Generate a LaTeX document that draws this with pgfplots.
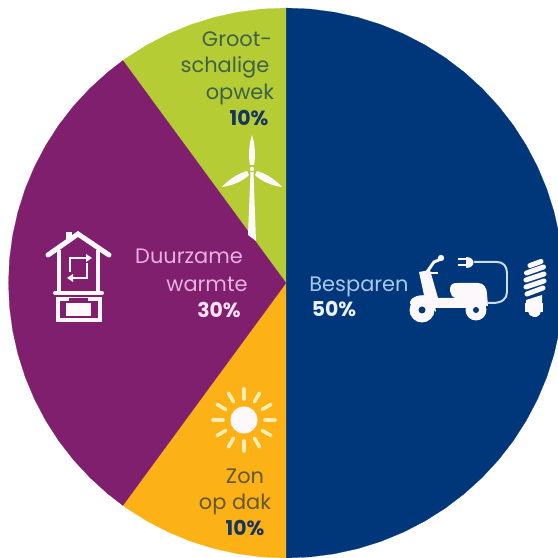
\documentclass[border=0pt]{standalone}
\usepackage{pgfplots}
\pgfplotsset{compat=1.18}
\usepackage{fontspec}
\setmainfont{Poppins}
\definecolor{cblue}{RGB}{0,55,122}
\definecolor{cpurple}{RGB}{127,31,110}
\definecolor{cgreen}{RGB}{181,204,52}
\definecolor{corange}{RGB}{252,177,22}
\definecolor{tlav}{RGB}{232,176,226}
\definecolor{tpink}{RGB}{248,228,246}
\definecolor{tblue}{RGB}{170,200,235}
\definecolor{twhite}{RGB}{236,242,250}
\definecolor{tgreen}{RGB}{62,98,72}
\definecolor{tnavy}{RGB}{22,52,96}
\definecolor{tbrown}{RGB}{100,88,50}
\definecolor{iw}{RGB}{252,248,252}
\definecolor{sray}{RGB}{255,238,180}
\newcommand{\lbl}[4]{\node[anchor=mid,inner sep=0pt,yshift=-3.5bp,text=#3,font=\fontsize{21}{21}\selectfont] at (#1,#2) {#4};}
\newcommand{\blbl}[4]{\node[anchor=mid,inner sep=0pt,yshift=-3.5bp,text=#3,font=\fontsize{20.5}{21}\selectfont\bfseries] at (#1,#2) {#4};}
\begin{document}
\begin{tikzpicture}[x=1bp,y=1bp]
\path[use as bounding box] (0,0) rectangle (558bp,558bp);
\begin{axis}[at={(0,0)},anchor=south west,width=558bp,height=558bp,scale only axis,
  hide axis,xmin=-1.0306,xmax=0.9802,ymin=-1,ymax=1.02909]
% Besparen 50%
\addplot[fill=cblue,draw=cblue,line width=0.2pt] coordinates {(0,0)(0,1)(.0872,.9962)(.1736,.9848)(.2588,.9659)(.3420,.9397)(.4226,.9063)(.5,.8660)(.5736,.8192)(.6428,.7660)(.7071,.7071)(.7660,.6428)(.8192,.5736)(.8660,.5)(.9063,.4226)(.9397,.3420)(.9659,.2588)(.9848,.1736)(.9962,.0872)(1,0)(.9962,-.0872)(.9848,-.1736)(.9659,-.2588)(.9397,-.3420)(.9063,-.4226)(.8660,-.5)(.8192,-.5736)(.7660,-.6428)(.7071,-.7071)(.6428,-.7660)(.5736,-.8192)(.5,-.8660)(.4226,-.9063)(.3420,-.9397)(.2588,-.9659)(.1736,-.9848)(.0872,-.9962)(0,-1)} -- cycle;
% Zon op dak 10%
\addplot[fill=corange,draw=corange,line width=0.2pt] coordinates {(0,0)(0,-1)(-.0872,-.9962)(-.1736,-.9848)(-.2588,-.9659)(-.3420,-.9397)(-.4226,-.9063)(-.5,-.8660)(-.5736,-.8192)(-.5878,-.8090)} -- cycle;
% Grootschalige opwek 10%
\addplot[fill=cgreen,draw=cgreen,line width=0.2pt] coordinates {(0,0)(-.5878,.8090)(-.5736,.8192)(-.5,.8660)(-.4226,.9063)(-.3420,.9397)(-.2588,.9659)(-.1736,.9848)(-.0872,.9962)(0,1)} -- cycle;
% Duurzame warmte 30%
\addplot[fill=cpurple,draw=cpurple,line width=0.2pt] coordinates {(0,0)(-.5878,-.8090)(-.6428,-.7660)(-.7071,-.7071)(-.7660,-.6428)(-.8192,-.5736)(-.8660,-.5)(-.9063,-.4226)(-.9397,-.3420)(-.9659,-.2588)(-.9848,-.1736)(-.9962,-.0872)(-1,0)(-.9962,.0872)(-.9848,.1736)(-.9659,.2588)(-.9397,.3420)(-.9063,.4226)(-.8660,.5)(-.8192,.5736)(-.7660,.6428)(-.7071,.7071)(-.6428,.7660)(-.5878,.8090)} -- cycle;
\end{axis}
\begin{scope}[shift={(0,558bp)},x=1bp,y=-1bp]
\lbl{237}{40}{tgreen}{Groot-}
\lbl{225}{66}{tgreen}{schalige}
\lbl{240}{93}{tgreen}{opwek}
\blbl{249}{119}{tnavy}{10\%}
\lbl{189}{257}{tlav}{Duurzame}
\lbl{207}{285}{tlav}{warmte}
\blbl{219}{311}{tpink}{30\%}
\lbl{359}{285}{tblue}{Besparen}
\blbl{334}{310}{twhite}{50\%}
\lbl{245}{477}{tbrown}{Zon}
\lbl{235}{503}{tbrown}{op dak}
\blbl{245}{529}{tnavy}{10\%}
% wind turbine
\fill[iw] (250.5,172) -- (253.5,172) -- (256,241) -- (248,235) -- cycle;
\fill[iw] (252,135) .. controls (255.5,145) and (255.5,158) .. (254,165) -- (250,165) .. controls (248.5,158) and (248.5,145) .. (252,135) -- cycle;
\fill[iw] (222,187) .. controls (230,178) and (240,173) .. (247,171) -- (249,175) .. controls (243,181) and (232,186) .. (222,187) -- cycle;
\fill[iw] (282,187) .. controls (274,178) and (264,173) .. (257,171) -- (255,175) .. controls (261,181) and (272,186) .. (282,187) -- cycle;
\fill[iw] (252,169) circle (2.2);
% sun
\fill[iw] (244,420) circle (13.5);
\foreach \a in {0,30,...,330}{\draw[sray,line width=3.6pt,line cap=round] (244,420) ++(\a:21) -- ++(\a:10);}
% house
\begin{scope}[iw,line width=3.4pt]
\draw[line width=5pt,line cap=round,line join=miter] (48,255) -- (78,234) -- (109,255);
\fill (66,239) rectangle (72,232);
\draw (59,250) -- (59,293);
\draw (98,250) -- (98,293);
\draw[line width=4pt,line cap=round] (55,293) -- (102,293);
\draw (58,299) rectangle (100,320);
\fill (66,303) rectangle (91,316);
\fill[cpurple] (69,298) rectangle (88,302);
\draw[line width=2.4pt] (88,258) -- (70,258) -- (70,272);
\fill (86,254) -- (92,258) -- (86,262) -- cycle;
\draw[line width=2.4pt] (69,278) -- (87,278) -- (87,263);
\fill (73,274) -- (67,278) -- (73,282) -- cycle;
\end{scope}
% scooter
\begin{scope}[iw]
\fill (422,310) circle (12.5);
\fill[cblue] (422,310) circle (3.5);
\fill (476,310) circle (10.5);
\fill[cblue] (476,310) circle (3);
\fill (410,302) .. controls (412,295) and (425,293) .. (434,298) -- (436,312) -- (428,304) -- (410,304) -- cycle;
\fill (419,272) -- (430,270) -- (438,298) -- (470,298) -- (470,308) -- (431,308) -- (424,295) -- cycle;
\fill (450,291) .. controls (450,284) and (452,283) .. (458,283) -- (478,283) .. controls (484,283) and (487,288) .. (487,294) -- (488,306) -- (460,306) -- (458,300) -- (452,296) -- cycle;
\draw[line width=3pt,line cap=round] (427,272) -- (434,262) -- (441,259);
\draw[line width=2.4pt] (422,273) -- (438,273);
\fill (441,258) circle (3.2);
\fill (466,257) .. controls (476,257) and (476,268) .. (466,268) -- cycle;
\draw[line width=2pt] (458,259.5) -- (467,259.5) (458,265.5) -- (467,265.5);
\draw[tblue!60!white,line width=2pt] (474,262) -- (497,262) .. controls (503,262) and (507,266) .. (507,273) -- (507,292) .. controls (507,299) and (502,303) .. (492,303) -- (487,303);
\end{scope}
% bulb
\begin{scope}[iw,line width=5pt,line cap=round]
\draw (530,265.5) -- (541,261.5);
\draw (526.5,273) -- (543.5,267);
\draw (526,280) -- (544,274);
\draw (526,287) -- (544,281);
\draw (527,294) -- (543,288);
\fill (526,300) -- (542,295) -- (542,303) -- (526,303) -- cycle;
\fill (525,303) rectangle (543,312);
\fill (528,311) -- (541,311) .. controls (540,317) and (536,317) .. (534,317) .. controls (531,317) and (529,315) .. (528,311) -- cycle;
\end{scope}
\end{scope}
\end{tikzpicture}
\end{document}
